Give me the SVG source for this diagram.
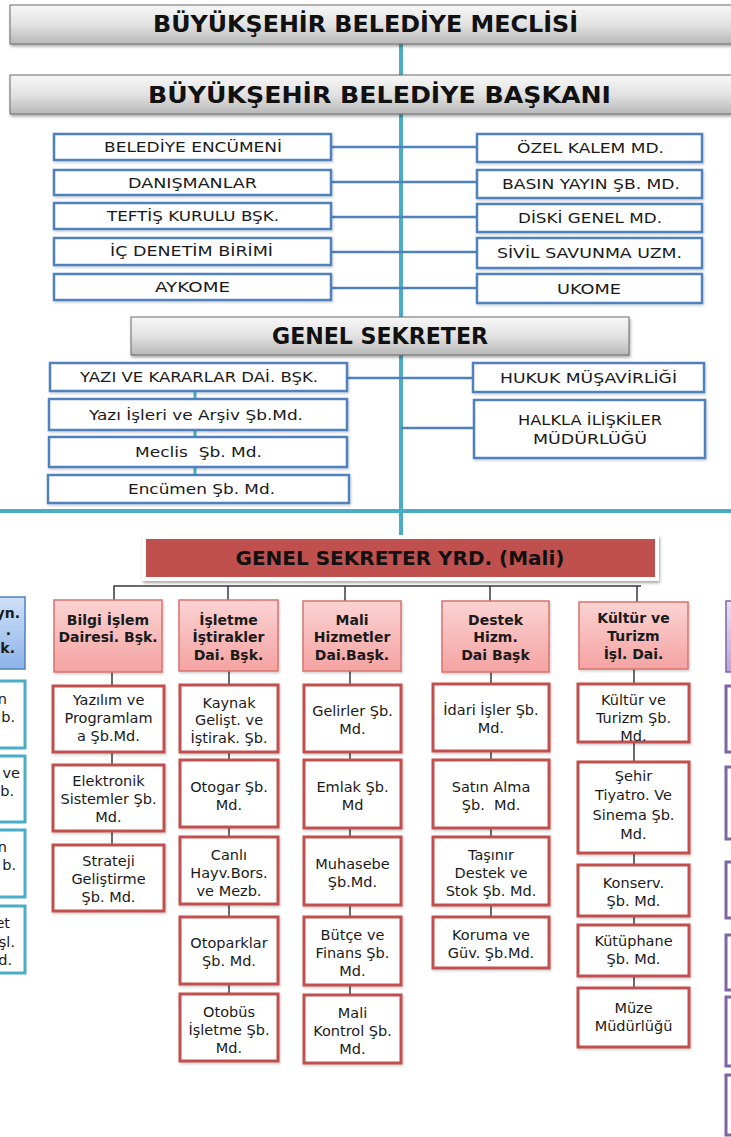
<svg xmlns="http://www.w3.org/2000/svg" width="731" height="1137" viewBox="0 0 731 1137">
<defs>
<linearGradient id="gGray" x1="0" y1="0" x2="0" y2="1"><stop offset="0" stop-color="#f7f7f7"/><stop offset="0.5" stop-color="#e2e2e2"/><stop offset="1" stop-color="#b8b8b8"/></linearGradient>
<linearGradient id="gPink" x1="0" y1="0" x2="0" y2="1"><stop offset="0" stop-color="#fbd3d3"/><stop offset="1" stop-color="#f4a3a2"/></linearGradient>
<linearGradient id="gBlue" x1="0" y1="0" x2="0" y2="1"><stop offset="0" stop-color="#cfe0f7"/><stop offset="1" stop-color="#8cb3e8"/></linearGradient>
<linearGradient id="gPurple" x1="0" y1="0" x2="0" y2="1"><stop offset="0" stop-color="#e8e0f2"/><stop offset="1" stop-color="#b9a6d6"/></linearGradient>
<filter id="sh" x="-10%" y="-20%" width="120%" height="150%"><feDropShadow dx="1" dy="2" stdDeviation="1.5" flood-color="#000" flood-opacity="0.35"/></filter>
<filter id="shl" x="-10%" y="-20%" width="120%" height="150%"><feDropShadow dx="1" dy="1.5" stdDeviation="1" flood-color="#000" flood-opacity="0.2"/></filter>
</defs>
<style>
text{font-family:"DejaVu Sans","Liberation Sans",sans-serif;fill:#1a1a1a;text-anchor:middle;dominant-baseline:central}
.title{font-size:23px;font-weight:bold;fill:#111}
.gs{font-size:20px;font-weight:bold;fill:#111}
.bt{font-size:14px}
.ht{font-size:14px;font-weight:bold}
.ct{font-size:14.5px}
.pre{white-space:pre}
.end{text-anchor:end}
.gray{fill:url(#gGray);stroke:#6b6b6b;stroke-width:1;filter:url(#sh)}
.blue{fill:#fff;stroke:#4f81bd;stroke-width:2.5;filter:url(#shl)}
.pink{fill:url(#gPink);stroke:#d9736f;stroke-width:1.5;filter:url(#shl)}
.red{fill:#fff;stroke:#c0504d;stroke-width:3;filter:url(#shl)}
.lb{fill:url(#gBlue);stroke:#4f81bd;stroke-width:1.5}
.teal{fill:#fff;stroke:#4bacc6;stroke-width:3}
.pu{fill:#fff;stroke:#8064a2;stroke-width:3}
.puh{fill:url(#gPurple);stroke:#8064a2;stroke-width:1.5}
.tl{stroke:#4bacc6;fill:none}
.bl{stroke:#4f81bd;stroke-width:2.5;fill:none}
.gl{stroke:#3a3a3a;stroke-width:1.5;fill:none}
</style>
<rect width="731" height="1137" fill="#fff"/>

<g id="connectors">
<line class="tl" x1="401" y1="44" x2="401" y2="537" stroke-width="4"/>
<line class="tl" x1="0" y1="511" x2="731" y2="511" stroke-width="4"/>
<line class="bl" x1="331" y1="147" x2="477" y2="147"/>
<line class="bl" x1="331" y1="182" x2="477" y2="182"/>
<line class="bl" x1="331" y1="217" x2="477" y2="217"/>
<line class="bl" x1="331" y1="252" x2="477" y2="252"/>
<line class="bl" x1="331" y1="288" x2="477" y2="288"/>
<line class="bl" x1="347" y1="378" x2="473" y2="378"/>
<line class="bl" x1="401" y1="428" x2="474" y2="428"/>
<line class="tl" x1="195" y1="391" x2="195" y2="476" stroke-width="3"/>
<polyline class="gl" points="114,600 114,586 641,586"/>
<line class="gl" x1="228" y1="586" x2="228" y2="600"/>
<line class="gl" x1="345" y1="586" x2="345" y2="601"/>
<line class="gl" x1="490" y1="586" x2="490" y2="601"/>
<line class="gl" x1="637" y1="586" x2="637" y2="602"/>
<line class="gl" x1="112" y1="672" x2="112" y2="845"/>
<line class="gl" x1="229" y1="671" x2="229" y2="994"/>
<line class="gl" x1="350" y1="671" x2="350" y2="995"/>
<line class="gl" x1="491" y1="672" x2="491" y2="917"/>
<line class="gl" x1="634" y1="669" x2="634" y2="988"/>
</g>

<g id="meclis"><rect class="gray" x="10" y="5" width="740" height="39"/><text class="title" x="365.5" y="24" textLength="425" lengthAdjust="spacingAndGlyphs">BÜYÜKŞEHİR BELEDİYE MECLİSİ</text></g>
<g id="baskan"><rect class="gray" x="10" y="75" width="740" height="39"/><text class="title" x="379.5" y="95" textLength="463" lengthAdjust="spacingAndGlyphs">BÜYÜKŞEHİR BELEDİYE BAŞKANI</text></g>

<g id="encumen"><rect class="blue" x="54" y="134" width="277" height="26"/><text class="bt" x="193" y="147" textLength="178" lengthAdjust="spacingAndGlyphs">BELEDİYE ENCÜMENİ</text></g>
<g id="danisman"><rect class="blue" x="54" y="170" width="277" height="25"/><text class="bt" x="192.5" y="182.5" textLength="129" lengthAdjust="spacingAndGlyphs">DANIŞMANLAR</text></g>
<g id="teftis"><rect class="blue" x="54" y="203" width="277" height="26"/><text class="bt" x="193" y="216" textLength="172" lengthAdjust="spacingAndGlyphs">TEFTİŞ KURULU BŞK.</text></g>
<g id="icdenetim"><rect class="blue" x="54" y="238" width="277" height="27"/><text class="bt" x="191.5" y="251" textLength="163" lengthAdjust="spacingAndGlyphs">İÇ DENETİM BİRİMİ</text></g>
<g id="aykome"><rect class="blue" x="54" y="274" width="277" height="26"/><text class="bt" x="192.5" y="287" textLength="75" lengthAdjust="spacingAndGlyphs">AYKOME</text></g>

<g id="ozelkalem"><rect class="blue" x="477" y="134" width="225" height="28"/><text class="bt" x="590.5" y="148" textLength="147" lengthAdjust="spacingAndGlyphs">ÖZEL KALEM MD.</text></g>
<g id="basin"><rect class="blue" x="477" y="170" width="225" height="28"/><text class="bt" x="591" y="184" textLength="178" lengthAdjust="spacingAndGlyphs">BASIN YAYIN ŞB. MD.</text></g>
<g id="diski"><rect class="blue" x="477" y="204" width="225" height="28"/><text class="bt" x="590" y="218" textLength="144" lengthAdjust="spacingAndGlyphs">DİSKİ GENEL MD.</text></g>
<g id="sivil"><rect class="blue" x="477" y="238" width="225" height="30"/><text class="bt" x="589.5" y="253" textLength="185" lengthAdjust="spacingAndGlyphs">SİVİL SAVUNMA UZM.</text></g>
<g id="ukome"><rect class="blue" x="477" y="274" width="225" height="29"/><text class="bt" x="589" y="288.5" textLength="64" lengthAdjust="spacingAndGlyphs">UKOME</text></g>

<g id="genelsekreter"><rect class="gray" x="131" y="317" width="498" height="38"/><text class="title" x="380" y="336" textLength="216" lengthAdjust="spacingAndGlyphs">GENEL SEKRETER</text></g>

<g id="yazikarar"><rect class="blue" x="50" y="363" width="297" height="28"/><text class="bt" x="199" y="377" textLength="238" lengthAdjust="spacingAndGlyphs">YAZI VE KARARLAR DAİ. BŞK.</text></g>
<g id="yaziisleri"><rect class="blue" x="49" y="399" width="298" height="31"/><text class="bt" x="196" y="414.5" textLength="214" lengthAdjust="spacingAndGlyphs">Yazı İşleri ve Arşiv Şb.Md.</text></g>
<g id="meclissb"><rect class="blue" x="49" y="437" width="298" height="30"/><text class="bt pre" x="198.5" y="452" textLength="127" lengthAdjust="spacingAndGlyphs">Meclis  Şb. Md.</text></g>
<g id="encumensb"><rect class="blue" x="48" y="475" width="301" height="28"/><text class="bt" x="201.5" y="489" textLength="147" lengthAdjust="spacingAndGlyphs">Encümen Şb. Md.</text></g>
<g id="hukuk"><rect class="blue" x="473" y="363" width="231" height="29"/><text class="bt" x="588.5" y="377.5" textLength="177" lengthAdjust="spacingAndGlyphs">HUKUK MÜŞAVİRLİĞİ</text></g>
<g id="halkla"><rect class="blue" x="474" y="400" width="231" height="58"/><text class="bt" x="590" y="420" textLength="144" lengthAdjust="spacingAndGlyphs">HALKLA İLİŞKİLER</text><text class="bt" x="590" y="439" textLength="114" lengthAdjust="spacingAndGlyphs">MÜDÜRLÜĞÜ</text></g>

<g id="gsyrd"><rect x="142" y="535" width="517" height="46" fill="#fff" filter="url(#sh)"/><rect x="146" y="539" width="509" height="38" fill="#c0504d"/><text class="gs" x="400" y="558">GENEL SEKRETER YRD. (Mali)</text></g>

<g id="bilgi-islem"><rect class="pink" x="54" y="600" width="108" height="72"/><text class="ht" x="108" y="620">Bilgi İşlem</text><text class="ht" x="108" y="637">Dairesi. Bşk.</text></g>
<g id="isletme"><rect class="pink" x="179" y="600" width="99" height="71"/><text class="ht" x="228.5" y="620">İşletme</text><text class="ht" x="228.5" y="637">İştirakler</text><text class="ht" x="228.5" y="655">Dai. Bşk.</text></g>
<g id="mali"><rect class="pink" x="303" y="601" width="98" height="70"/><text class="ht" x="352" y="620">Mali</text><text class="ht" x="352" y="637">Hizmetler</text><text class="ht" x="352" y="655">Dai.Başk.</text></g>
<g id="destek"><rect class="pink" x="442" y="601" width="107" height="71"/><text class="ht" x="495.5" y="620">Destek</text><text class="ht" x="495.5" y="637">Hizm.</text><text class="ht" x="495.5" y="655">Dai Başk</text></g>
<g id="kultur"><rect class="pink" x="579" y="602" width="109" height="67"/><text class="ht" x="633.5" y="618">Kültür ve</text><text class="ht" x="633.5" y="636">Turizm</text><text class="ht" x="633.5" y="654">İşl. Dai.</text></g>

<g id="c1-1"><rect class="red" x="53" y="686" width="111" height="66"/><text class="ct" x="108.5" y="700">Yazılım ve</text><text class="ct" x="108.5" y="718">Programlam</text><text class="ct" x="108.5" y="736">a Şb.Md.</text></g>
<g id="c1-2"><rect class="red" x="53" y="765" width="111" height="66"/><text class="ct" x="108.5" y="781">Elektronik</text><text class="ct" x="108.5" y="799">Sistemler Şb.</text><text class="ct" x="108.5" y="817">Md.</text></g>
<g id="c1-3"><rect class="red" x="53" y="845" width="111" height="66"/><text class="ct" x="108.5" y="861">Strateji</text><text class="ct" x="108.5" y="879">Geliştirme</text><text class="ct" x="108.5" y="897">Şb. Md.</text></g>

<g id="c2-1"><rect class="red" x="180" y="685" width="98" height="67"/><text class="ct" x="229" y="703">Kaynak</text><text class="ct" x="229" y="720">Gelişt. ve</text><text class="ct" x="229" y="738">İştirak. Şb.</text></g>
<g id="c2-2"><rect class="red" x="180" y="760" width="98" height="67"/><text class="ct" x="229" y="787">Otogar Şb.</text><text class="ct" x="229" y="805">Md.</text></g>
<g id="c2-3"><rect class="red" x="180" y="837" width="98" height="67"/><text class="ct" x="229" y="855">Canlı</text><text class="ct" x="229" y="873">Hayv.Bors.</text><text class="ct" x="229" y="891">ve Mezb.</text></g>
<g id="c2-4"><rect class="red" x="180" y="917" width="98" height="67"/><text class="ct" x="229" y="943">Otoparklar</text><text class="ct" x="229" y="961">Şb. Md.</text></g>
<g id="c2-5"><rect class="red" x="180" y="994" width="98" height="67"/><text class="ct" x="229" y="1012">Otobüs</text><text class="ct" x="229" y="1030">İşletme Şb.</text><text class="ct" x="229" y="1048">Md.</text></g>

<g id="c3-1"><rect class="red" x="304" y="685" width="97" height="67"/><text class="ct" x="352.5" y="711">Gelirler Şb.</text><text class="ct" x="352.5" y="729">Md.</text></g>
<g id="c3-2"><rect class="red" x="304" y="760" width="97" height="68"/><text class="ct" x="352.5" y="787">Emlak Şb.</text><text class="ct" x="352.5" y="805">Md</text></g>
<g id="c3-3"><rect class="red" x="304" y="837" width="97" height="68"/><text class="ct" x="352.5" y="864">Muhasebe</text><text class="ct" x="352.5" y="882">Şb.Md.</text></g>
<g id="c3-4"><rect class="red" x="304" y="917" width="97" height="68"/><text class="ct" x="352.5" y="935">Bütçe ve</text><text class="ct" x="352.5" y="953">Finans Şb.</text><text class="ct" x="352.5" y="971">Md.</text></g>
<g id="c3-5"><rect class="red" x="304" y="995" width="97" height="68"/><text class="ct" x="352.5" y="1013">Mali</text><text class="ct" x="352.5" y="1031">Kontrol Şb.</text><text class="ct" x="352.5" y="1049">Md.</text></g>

<g id="c4-1"><rect class="red" x="433" y="684" width="116" height="67"/><text class="ct" x="491" y="710">İdari İşler Şb.</text><text class="ct" x="491" y="728">Md.</text></g>
<g id="c4-2"><rect class="red" x="433" y="760" width="116" height="68"/><text class="ct" x="491" y="787">Satın Alma</text><text class="ct pre" x="491" y="805">Şb.  Md.</text></g>
<g id="c4-3"><rect class="red" x="433" y="837" width="116" height="68"/><text class="ct" x="491" y="855">Taşınır</text><text class="ct" x="491" y="873">Destek ve</text><text class="ct" x="491" y="891">Stok Şb. Md.</text></g>
<g id="c4-4"><rect class="red" x="433" y="917" width="116" height="51"/><text class="ct" x="491" y="935">Koruma ve</text><text class="ct" x="491" y="953">Güv. Şb.Md.</text></g>

<g id="c5-1"><rect class="red" x="578" y="684" width="111" height="58"/><text class="ct" x="633.5" y="700">Kültür ve</text><text class="ct" x="633.5" y="718">Turizm Şb.</text><text class="ct" x="633.5" y="736">Md.</text></g>
<g id="c5-2"><rect class="red" x="578" y="762" width="111" height="91"/><text class="ct" x="633.5" y="776">Şehir</text><text class="ct" x="633.5" y="795">Tiyatro. Ve</text><text class="ct" x="633.5" y="815">Sinema Şb.</text><text class="ct" x="633.5" y="834">Md.</text></g>
<g id="c5-3"><rect class="red" x="578" y="865" width="111" height="51"/><text class="ct" x="633.5" y="883">Konserv.</text><text class="ct" x="633.5" y="901">Şb. Md.</text></g>
<g id="c5-4"><rect class="red" x="578" y="925" width="111" height="51"/><text class="ct" x="633.5" y="941">Kütüphane</text><text class="ct" x="633.5" y="959">Şb. Md.</text></g>
<g id="c5-5"><rect class="red" x="578" y="988" width="111" height="59"/><text class="ct" x="633.5" y="1008">Müze</text><text class="ct" x="633.5" y="1026">Müdürlüğü</text></g>

<g id="left-head"><rect class="lb" x="-90" y="597" width="115" height="72"/><text class="ht end" x="20" y="613">yn.</text><text class="ht end" x="11" y="630">.</text><text class="ht end" x="15" y="648">k.</text></g>
<g id="left-1"><rect class="teal" x="-90" y="681" width="115" height="67"/><text class="ct end" x="7" y="699">n</text><text class="ct end" x="15" y="717">b.</text></g>
<g id="left-2"><rect class="teal" x="-90" y="756" width="115" height="66"/><text class="ct end" x="20" y="773">ve</text><text class="ct end" x="14" y="791">b.</text></g>
<g id="left-3"><rect class="teal" x="-90" y="830" width="115" height="67"/><text class="ct end" x="7" y="847">n</text><text class="ct end" x="16" y="865">b.</text></g>
<g id="left-4"><rect class="teal" x="-90" y="906" width="115" height="67"/><text class="ct end" x="10" y="923">et</text><text class="ct end" x="15" y="942">şl.</text><text class="ct end" x="12" y="960">d.</text></g>

<g id="right-head"><rect class="puh" x="726" y="601" width="40" height="71"/></g>
<g id="right-1"><rect class="pu" x="726" y="686" width="40" height="66"/></g>
<g id="right-2"><rect class="pu" x="726" y="767" width="40" height="72"/></g>
<g id="right-3"><rect class="pu" x="726" y="862" width="40" height="56"/></g>
<g id="right-4"><rect class="pu" x="726" y="935" width="40" height="55"/></g>
<g id="right-5"><rect class="pu" x="726" y="997" width="40" height="69"/></g>
<g id="right-6"><rect class="pu" x="726" y="1075" width="40" height="60"/></g>
</svg>
